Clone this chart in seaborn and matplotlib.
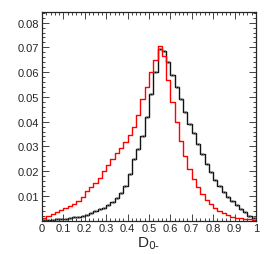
import numpy as np
import pandas as pd
import matplotlib
matplotlib.use("Agg")
import matplotlib.pyplot as plt
import seaborn as sns
from matplotlib.ticker import MultipleLocator

# bin edges and per-bin fractions (50 bins on [0, 1])
edges = np.linspace(0, 1, 51)
centers = (edges[:-1] + edges[1:]) / 2

red_vals = [0.0010, 0.0018, 0.0025, 0.0033, 0.0042, 0.0050, 0.0058, 0.0068, 0.0080, 0.0095,
            0.0120, 0.0135, 0.0152, 0.0172, 0.0200, 0.0225, 0.0250, 0.0272, 0.0295, 0.0318,
            0.0345, 0.0380, 0.0425, 0.0490, 0.0540, 0.0600, 0.0650, 0.0705, 0.0665, 0.0570,
            0.0480, 0.0400, 0.0320, 0.0260, 0.0210, 0.0170, 0.0135, 0.0108, 0.0085, 0.0066,
            0.0050, 0.0038, 0.0029, 0.0022, 0.0016, 0.0012, 0.0009, 0.0007, 0.0005, 0.0004]

black_vals = [0.0002, 0.0003, 0.0004, 0.0005, 0.0006, 0.0008, 0.0010, 0.0013, 0.0016, 0.0020,
              0.0024, 0.0030, 0.0037, 0.0045, 0.0052, 0.0062, 0.0075, 0.0092, 0.0112, 0.0140,
              0.0190, 0.0250, 0.0290, 0.0340, 0.0420, 0.0510, 0.0600, 0.0695, 0.0685, 0.0640,
              0.0590, 0.0540, 0.0490, 0.0440, 0.0390, 0.0355, 0.0310, 0.0270, 0.0230, 0.0195,
              0.0165, 0.0140, 0.0115, 0.0095, 0.0078, 0.0062, 0.0048, 0.0035, 0.0020, 0.0010]

xticks = [0, 0.1, 0.2, 0.3, 0.4, 0.5, 0.6, 0.7, 0.8, 0.9, 1]
xtick_labels = ["0", "0.1", "0.2", "0.3", "0.4", "0.5", "0.6", "0.7", "0.8", "0.9", "1"]
yticks = [0.01, 0.02, 0.03, 0.04, 0.05, 0.06, 0.07, 0.08]
ytick_labels = ["0.01", "0.02", "0.03", "0.04", "0.05", "0.06", "0.07", "0.08"]

df = pd.DataFrame({"x": np.concatenate([centers, centers]),
                   "w": np.concatenate([red_vals, black_vals]),
                   "sample": ["red"] * 50 + ["black"] * 50})

sns.set_style("ticks")
plt.rcParams["font.family"] = ["Liberation Sans", "DejaVu Sans"]

fig = plt.figure(figsize=(2.66, 2.55), dpi=100)
ax = fig.add_axes([0.158, 0.131, 0.804, 0.818])

sns.histplot(data=df, x="x", weights="w", hue="sample", bins=50, binrange=(0, 1),
             element="step", fill=False, palette={"red": "#ff0000", "black": "#111111"},
             linewidth=1.0, legend=False, ax=ax)

# faint hollow markers on the black histogram
ax.plot(centers, black_vals, "o", mfc="none", mec="#777777", ms=1.8, mew=0.5)

ax.set_xlim(0, 1)
ax.set_ylim(0, 0.0843)
ax.set_xticks(xticks)
ax.set_xticklabels(xtick_labels)
ax.set_yticks(yticks)
ax.set_yticklabels(ytick_labels)
ax.xaxis.set_minor_locator(MultipleLocator(0.02))
ax.yaxis.set_minor_locator(MultipleLocator(0.002))
ax.tick_params(which="both", direction="in", top=True, right=True, labelsize=8, pad=2)
ax.tick_params(which="major", length=5, width=0.6)
ax.tick_params(which="minor", length=2.5, width=0.6)
for s in ax.spines.values():
    s.set_linewidth(0.9)
    s.set_visible(True)

ax.set_ylabel("")
ax.set_xlabel("D$_{\\text{0-}}$", fontsize=11, labelpad=1)

fig.savefig("out.png", dpi=100)
